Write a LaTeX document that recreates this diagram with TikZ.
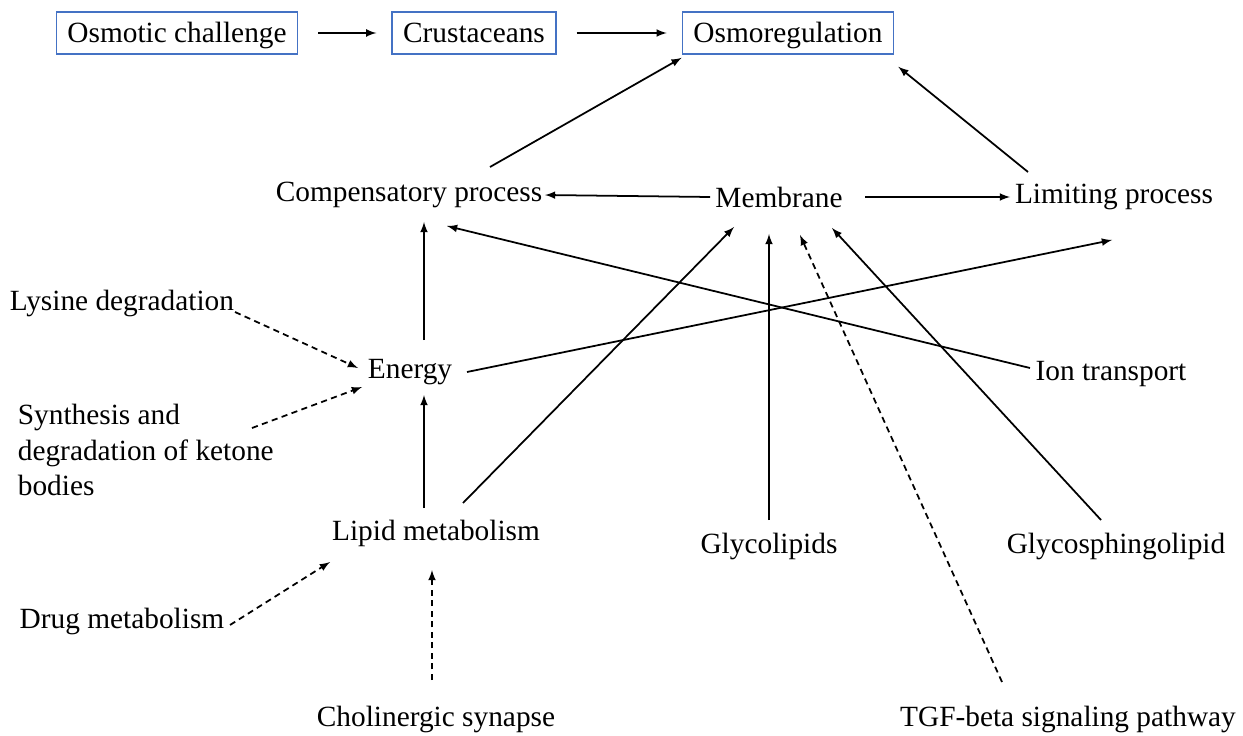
\documentclass[tikz,border=0pt]{standalone}
\usepackage{fontspec}
\setmainfont{Liberation Serif}
\usepackage{tikz}
\usetikzlibrary{calc}
\definecolor{boxblue}{RGB}{68,114,196}

\begin{document}
\begin{tikzpicture}[x=0.02cm,y=-0.02cm,line width=1pt,font=\fontsize{16.7}{20}\selectfont]
    \tikzstyle{box}=[draw=boxblue,line width=0.9pt,inner xsep=0.22cm,minimum height=0.84cm,text height=12.5pt,text depth=1.6pt]
    \tikzstyle{term}=[inner sep=0pt]
    \tikzstyle{weak}=[dash pattern=on 3.5pt off 2.5pt]
    \useasboundingbox (0,0) rectangle (1243,736);

    \foreach \name/\x/\txt in {osmotic/177/Osmotic challenge, crust/474/Crustaceans, osmo/788/Osmoregulation}
        \node[box] (\name) at (\x,33) {\txt};
    \foreach \from/\to in {osmotic/crust, crust/osmo}
        \draw[-latex,shorten <=0.4cm,shorten >=0.3cm] (\from) -- (\to);

    \node[term] (comp) at (409,195) {Compensatory process};
    \node[term] (memb) at (779,197) {Membrane};
    \node[term] (limit) at (1114,197) {Limiting process};
    \node[term] (energy) at (410,372) {Energy};
    \node[term] (ion) at (1111,374) {Ion transport};
    \node[term] (lysine) at (122,303) {Lysine degradation};
    \node[term,anchor=west,align=left] (ketone) at (17,450) {Synthesis and\\degradation of ketone\\bodies};
    \node[term] (lipid) at (436,533) {Lipid metabolism};
    \node[term] (glycol) at (769,546) {Glycolipids};
    \node[term] (sphingo) at (1116,546) {Glycosphingolipid};
    \node[term] (drug) at (122,621) {Drug metabolism};
    \node[term] (choline) at (436,719) {Cholinergic synapse};
    \node[term] (tgf) at (1068,719) {TGF-beta signaling pathway};

    % solid links
    \draw[-latex] ($(comp)+(81,-28)$) -- ($(osmo.south west)+(0,3)$);
    \draw[-latex] ($(limit)+(-86,-25)$) -- ($(osmo.south east)+(4,12)$);
    \draw[-latex] ($(memb)+(-69,0)$) -- ($(comp)+(136,0)$);
    \draw[-latex] ($(memb)+(86,0)$) -- ($(limit)+(-104,0)$);
    \draw[-latex] ($(energy)+(14,-32)$) -- ($(comp)+(15,27)$);
    \draw[-latex] ($(ion)+(-81,-6)$) -- ($(comp)+(38,31)$);
    \draw[-latex] ($(energy)+(57,0)$) -- ($(limit)+(-2,43)$);
    \draw[-latex] ($(lipid)+(-12,-25)$) -- ($(energy)+(14,23)$);
    \draw[-latex] ($(lipid)+(27,-30)$) -- ($(memb)+(-45,30)$);
    \draw[-latex] ($(glycol)+(0,-26)$) -- ($(memb)+(-10,37)$);
    \draw[-latex] ($(sphingo)+(-15,-26)$) -- ($(memb)+(53,31)$);

    % dashed links
    \draw[weak,-latex] ($(tgf)+(-66,-37)$) -- ($(memb)+(21,38)$);
    \draw[weak,-latex] ($(lysine)+(113,9)$) -- ($(energy)+(-52,-4)$);
    \draw[weak,-latex] ($(ketone.west)+(235,-22)$) -- ($(energy)+(-48,15)$);
    \draw[weak,-latex] ($(drug)+(108,4)$) -- ($(lipid)+(-106,29)$);
    \draw[weak,-latex] ($(choline)+(-4,-39)$) -- ($(lipid)+(-4,37)$);
\end{tikzpicture}
\end{document}
